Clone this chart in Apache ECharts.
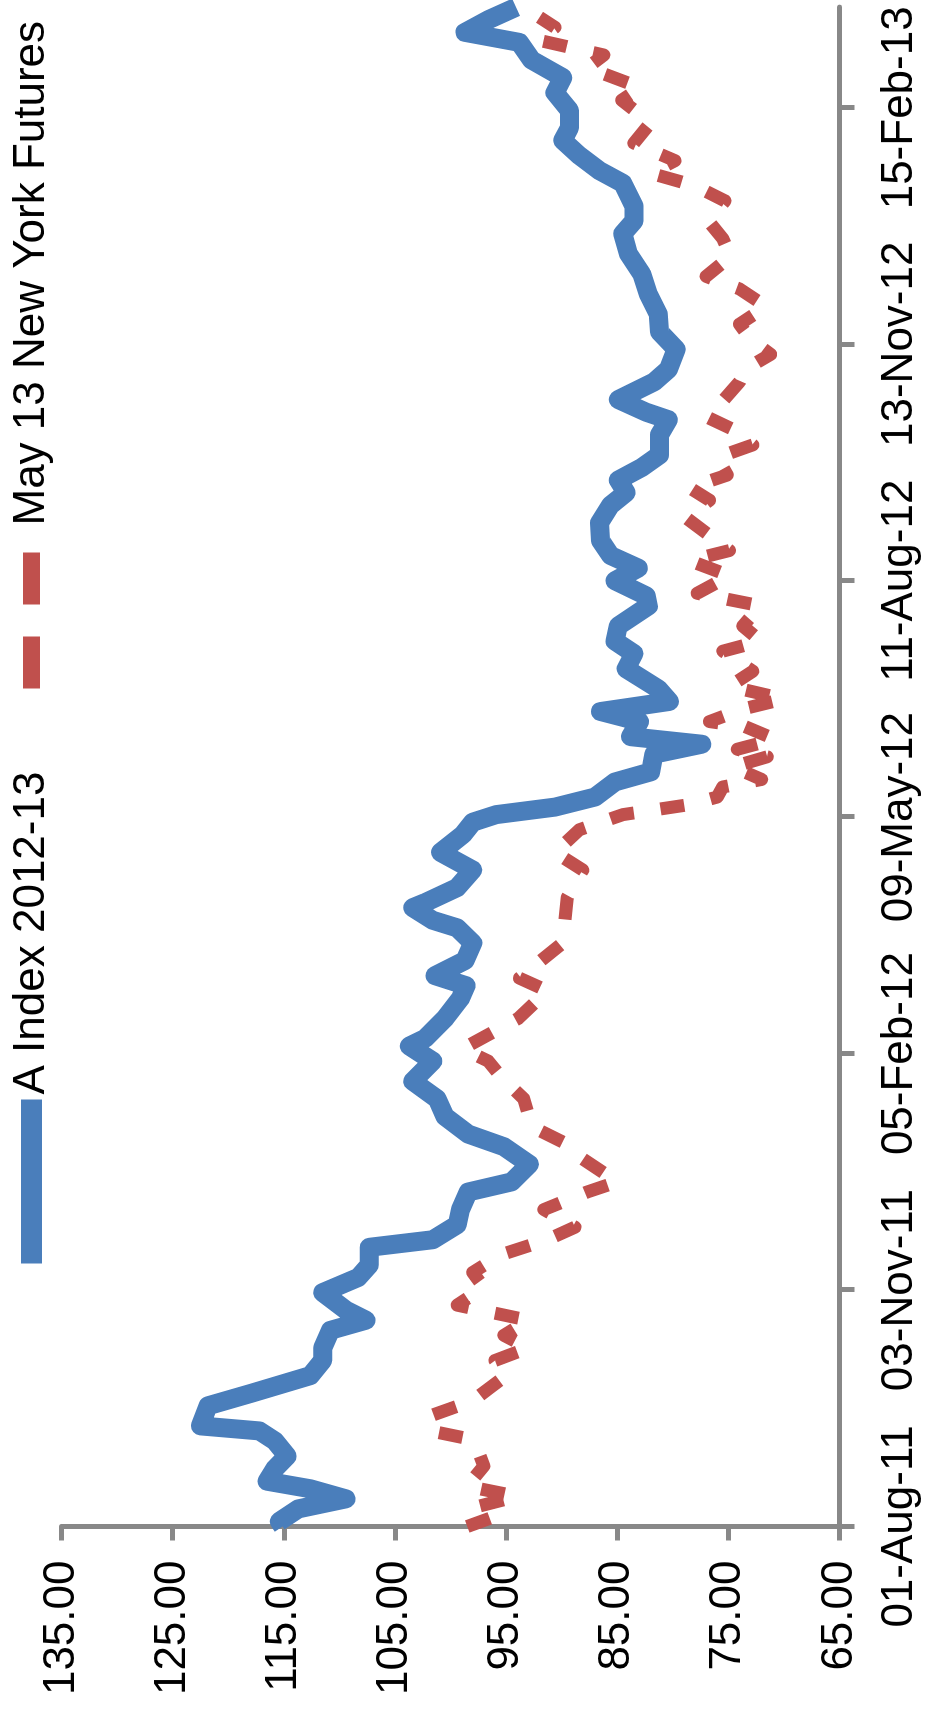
<!DOCTYPE html>
<html>
<head>
<meta charset="utf-8">
<script src="https://cdn.jsdelivr.net/npm/echarts@6/dist/echarts.min.js"></script>
<style>
html, body { margin: 0; padding: 0; width: 929px; height: 1726px; overflow: hidden; background: #ffffff; }
#chart { position: absolute; left: 0; top: 0; width: 1726px; height: 929px;
         transform-origin: 0 0; transform: translateY(1726px) rotate(-90deg); }
</style>
</head>
<body>
<div id="chart"></div>
<script>
// Date axis: days since 01-Aug-11
const tickDays = [0, 94, 188, 282, 376, 470, 564];
const tickLabels = ['01-Aug-11', '03-Nov-11', '05-Feb-12', '09-May-12', '11-Aug-12', '13-Nov-12', '15-Feb-13'];
const dayMax = 604;
const valueTicks = [65, 75, 85, 95, 105, 115, 125, 135];

const seriesNames = ['A Index 2012-13', 'May 13 New York Futures'];

// A Index 2012-13
const blueDays = [0, 2, 7, 11, 15, 18, 23, 28, 34, 38, 40, 48, 53, 60, 66, 71, 78, 82, 86, 93,
  99, 104, 111, 114, 120, 126, 133, 137, 144, 151, 156, 163, 170, 177, 185, 191, 194, 202, 210, 215,
  219, 225, 232, 238, 241, 246, 248, 254, 261, 268, 275, 280, 283, 286, 290, 296, 300, 307, 311, 314,
  320, 324, 328, 333, 341, 347, 352, 358, 366, 370, 376, 381, 386, 392, 399, 406, 411, 416, 421, 426,
  434, 440, 443, 448, 455, 460, 468, 475, 482, 490, 498, 506, 514, 519, 525, 534, 539, 545, 551, 556,
  563, 570, 576, 583, 590, 594, 599, 604];
const blueValues = [115.1, 115.4, 113.7, 109.4, 112.6, 116.5, 115.8, 114.7, 115.8, 117.2, 122.5, 121.8, 117.9, 112.6, 111.5, 111.5, 110.8, 107.6, 109.4, 111.5,
  108.3, 107.3, 107.3, 101.6, 99.4, 99.1, 98.4, 94.5, 92.9, 95.2, 98.4, 100.5, 101.2, 103.4, 101.6, 103.7, 102.3, 100.5, 99.1, 98.6,
  101.4, 98.7, 98.0, 99.4, 101.6, 103.4, 102.3, 99.4, 98.0, 100.9, 98.9, 98.0, 95.9, 90.6, 87.0, 85.2, 82.0, 81.7, 77.4, 83.8,
  83.0, 86.5, 80.3, 81.3, 84.2, 83.5, 85.2, 84.9, 82.2, 82.4, 85.2, 83.1, 85.6, 86.5, 86.6, 85.6, 84.2, 84.9, 82.8, 81.2,
  81.2, 80.4, 82.4, 84.9, 81.7, 80.4, 79.7, 81.2, 81.3, 82.2, 82.8, 84.0, 84.5, 83.5, 83.5, 84.5, 86.6, 88.4, 89.9, 89.3,
  89.3, 90.6, 89.9, 92.7, 93.8, 98.7, 96.6, 94.1];

// May 13 New York Futures
const redDays = [0, 4, 8, 12, 16, 24, 30, 35, 38, 44, 50, 55, 60, 66, 71, 76, 82, 88, 95, 101,
  108, 114, 119, 126, 133, 137, 142, 147, 152, 159, 170, 179, 185, 190, 202, 213, 218, 232, 250, 261,
  268, 277, 283, 287, 290, 294, 297, 302, 306, 309, 313, 318, 320, 325, 329, 334, 340, 345, 348, 352,
  358, 366, 371, 378, 384, 388, 395, 401, 408, 413, 418, 425, 430, 436, 441, 448, 455, 460, 466, 472,
  478, 485, 492, 497, 505, 512, 519, 527, 533, 538, 543, 550, 558, 567, 572, 580, 585, 591, 596, 600];
const redValues = [98.5, 96.0, 97.5, 94.0, 98.5, 97.0, 97.5, 98.5, 101.8, 101.8, 98.0, 96.5, 95.0, 96.0, 93.0, 95.2, 93.0, 99.4, 97.0, 98.0,
  95.5, 91.3, 88.8, 91.6, 87.7, 85.0, 86.7, 88.4, 89.5, 92.7, 93.4, 95.5, 96.6, 98.9, 93.9, 91.3, 93.8, 89.9, 89.5, 88.1,
  90.6, 88.4, 84.5, 78.5, 76.0, 75.5, 72.0, 74.6, 71.5, 74.2, 70.8, 73.5, 76.7, 73.7, 70.0, 74.9, 72.8, 74.5, 75.5, 72.1,
  73.7, 72.1, 77.8, 74.9, 78.5, 74.9, 77.0, 78.8, 76.7, 78.5, 75.1, 76.0, 72.8, 74.5, 76.9, 75.4, 74.0, 73.5, 71.2, 73.0,
  74.0, 71.6, 74.0, 77.0, 74.8, 75.5, 76.8, 75.3, 78.0, 82.0, 79.8, 83.5, 82.0, 84.6, 82.9, 87.7, 86.2, 92.2, 90.6, 92.0];

const FONT = "'Liberation Sans', Arial, sans-serif";
const AXIS_COLOR = '#888888';
const BLUE = '#4A7EBB';
const RED = '#C0504D';

const chart = echarts.init(document.getElementById('chart'), null, { renderer: 'canvas' });

chart.setOption({
  backgroundColor: '#ffffff',
  animation: false,
  legend: [
    {
      data: [seriesNames[0]],
      left: 452, top: 9.5, padding: 0,
      itemWidth: 164, itemHeight: 24,
      itemStyle: { color: 'rgba(0,0,0,0)', borderWidth: 0, opacity: 0 },
      lineStyle: { width: 21, cap: 'butt' },
      textStyle: { fontSize: 44, color: '#000000', fontFamily: FONT }
    },
    {
      data: [seriesNames[1]],
      left: 1029, top: 9.5, padding: 0,
      itemWidth: 158, itemHeight: 24,
      itemStyle: { color: 'rgba(0,0,0,0)', borderWidth: 0, opacity: 0 },
      lineStyle: { width: 17, type: [52, 32], cap: 'butt' },
      textStyle: { fontSize: 44, color: '#000000', fontFamily: FONT }
    }
  ],
  grid: { left: 199.5, right: 7.2, top: 61.5, bottom: 89.5, containLabel: false },
  xAxis: {
    type: 'value',
    min: 0, max: dayMax,
    axisLine: { show: true, onZero: false, lineStyle: { color: AXIS_COLOR, width: 5 } },
    axisTick: { show: true, length: 15, customValues: tickDays, lineStyle: { color: AXIS_COLOR, width: 5 } },
    axisLabel: {
      customValues: tickDays,
      fontSize: 44, color: '#000000', fontFamily: FONT, margin: 38,
      formatter: function (v) { const i = tickDays.indexOf(v); return i >= 0 ? tickLabels[i] : ''; }
    },
    splitLine: { show: false }
  },
  yAxis: {
    type: 'value',
    min: valueTicks[0], max: valueTicks[valueTicks.length - 1], interval: 10,
    axisLine: { show: true, onZero: false, lineStyle: { color: AXIS_COLOR, width: 5 } },
    axisTick: { show: true, length: 14, lineStyle: { color: AXIS_COLOR, width: 5 } },
    axisLabel: {
      fontSize: 44, color: '#000000', fontFamily: FONT, margin: 34,
      formatter: function (v) { return v.toFixed(2); }
    },
    splitLine: { show: false }
  },
  series: [
    {
      name: seriesNames[0],
      type: 'line',
      symbol: 'none',
      clip: true,
      data: blueDays.map((d, i) => [d, blueValues[i]]),
      lineStyle: { color: BLUE, width: 19, join: 'round', cap: 'butt' },
      itemStyle: { color: BLUE },
      z: 3
    },
    {
      name: seriesNames[1],
      type: 'line',
      symbol: 'none',
      clip: true,
      data: redDays.map((d, i) => [d, redValues[i]]),
      lineStyle: { color: RED, width: 13, type: [24, 27], join: 'round', cap: 'butt' },
      itemStyle: { color: RED },
      z: 2
    }
  ]
});
</script>
</body>
</html>
